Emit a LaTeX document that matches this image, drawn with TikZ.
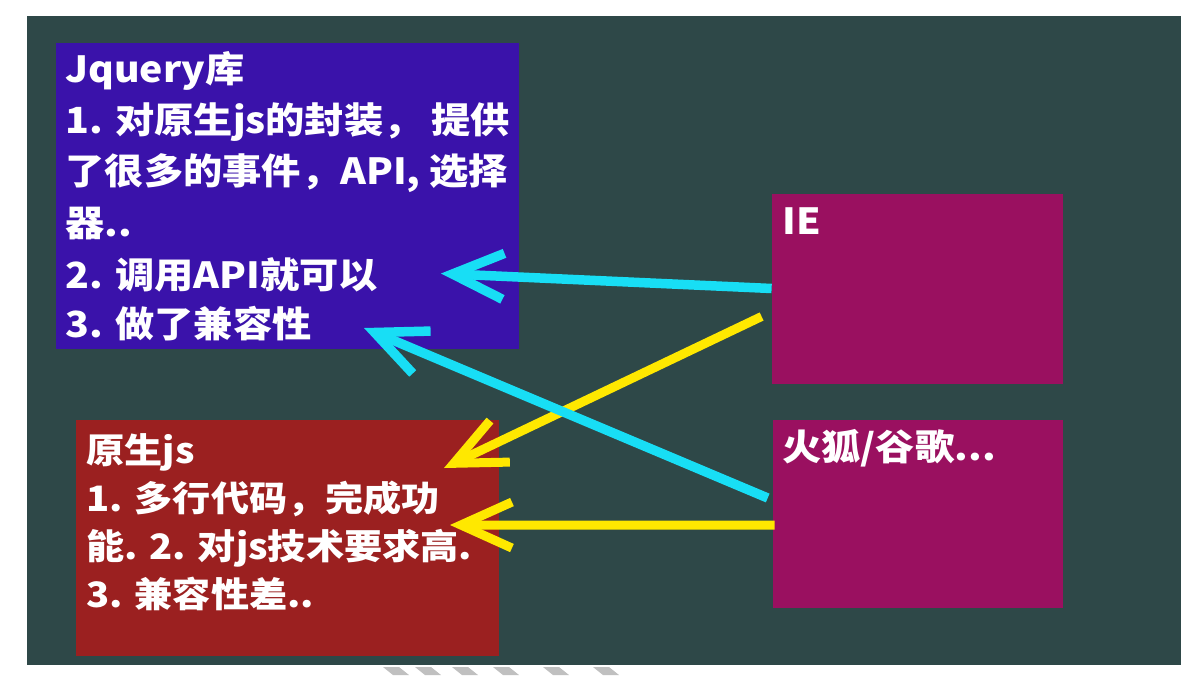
\documentclass[tikz,border=0pt]{standalone}
\usepackage{fontspec}
\newfontfamily\cjk{Noto Sans CJK SC}[FakeStretch=1.09]
\usetikzlibrary{arrows.meta,calc}
\definecolor{boardc}{RGB}{46,72,72}
\definecolor{jqblue}{RGB}{58,18,170}
\definecolor{jsred}{RGB}{155,32,32}
\definecolor{brmag}{RGB}{154,16,96}
\definecolor{arrcyan}{RGB}{24,222,245}
\definecolor{arryellow}{RGB}{255,232,0}
\definecolor{stripec}{RGB}{192,192,192}
\tikzset{
  box/.style={draw=none, inner sep=0pt, anchor=north west},
  lbl/.style={anchor=base west, inner sep=0pt, text=white, font=\cjk\bfseries\fontsize{36}{36}\selectfont},
  lblsmall/.style={lbl, font=\cjk\bfseries\fontsize{35}{35}\selectfont},
  cyanarr/.style={draw=arrcyan, line width=9.5pt, -{Straight Barb[length=51pt,width=46pt,sharp]}},
  yellowarr/.style={draw=arryellow, line width=9pt, -{Straight Barb[length=51pt,width=46pt,sharp]}},
  stripe/.style={fill=stripec, draw=none}
}
\begin{document}
\begin{tikzpicture}[x=1pt,y=-1pt]
\useasboundingbox (0,0) rectangle (1188,675);
\fill[white] (0,0) rectangle (1188,675);
% board
\fill[boardc] (27,16) rectangle (1181,665);
% stripes at bottom
\foreach \s in {383,415,452,493,543,593}{
  \fill[stripe] (\s,667) -- (\s+16,667) -- (\s+26,675) -- (\s+10,675) -- cycle;
}
% boxes
\node[box, fill=jqblue, minimum width=463.5pt, minimum height=306.5pt] (jq) at (55.5,42.7) {};
\node[box, fill=jsred, minimum width=423pt, minimum height=236pt] (js) at (75.8,420) {};
\node[box, fill=brmag, minimum width=291pt, minimum height=190pt] (ie) at (771.6,193.3) {};
\node[box, fill=brmag, minimum width=290.5pt, minimum height=188pt] (ff) at (772.7,420) {};
% texts of the Jquery box
\node[lbl] (jq1) at ($(jq.north west)+(9.5,39.3)$) {Jquery库};
\node[lbl] (jq2) at ($(jq.north west)+(10,90.3)$) {1. 对原生js的封装， 提供};
\node[lbl] (jq3) at ($(jq.north west)+(10,142)$) {了很多的事件，API, 选择};
\node[lbl] (jq4) at ($(jq.north west)+(10,194)$) {器..};
\node[lbl] (jq5) at ($(jq.north west)+(10,246)$) {2. 调用API就可以};
\node[lbl] (jq6) at ($(jq.north west)+(10,294.5)$) {3. 做了兼容性};
% texts of the native js box
\node[lblsmall] (js1) at ($(js.north west)+(10.5,43)$) {原生js};
\node[lblsmall] (js2) at ($(js.north west)+(10.5,91)$) {1. 多行代码，完成功};
\node[lblsmall] (js3) at ($(js.north west)+(10.5,139)$) {能. 2. 对js技术要求高.};
\node[lblsmall] (js4) at ($(js.north west)+(10.5,187)$) {3. 兼容性差..};
% browser labels
\node[lbl] (iel) at ($(ie.north west)+(11,41)$) {IE};
\node[lbl] (ffl) at ($(ff.north west)+(9.5,40)$) {火狐/谷歌...};
% connector ends
\coordinate (ys1) at ($(ie.west)+(-10,28)$);
\coordinate (yt1) at (444,468);
\coordinate (ys2) at ($(ff.west)+(2,11)$);
\coordinate (yt2) at (450,525);
\coordinate (ct1) at (441,273.5);
\coordinate (cs2) at ($(ff.north west)+(-5,78)$);
\coordinate (ct2) at (364,328);
% connectors
\draw[yellowarr] (ys1) -- (yt1);
\draw[yellowarr] (ys2) -- (yt2);
\draw[cyanarr] (ie.west) -- (ct1);
\draw[cyanarr] (cs2) -- (ct2);
\end{tikzpicture}
\end{document}
